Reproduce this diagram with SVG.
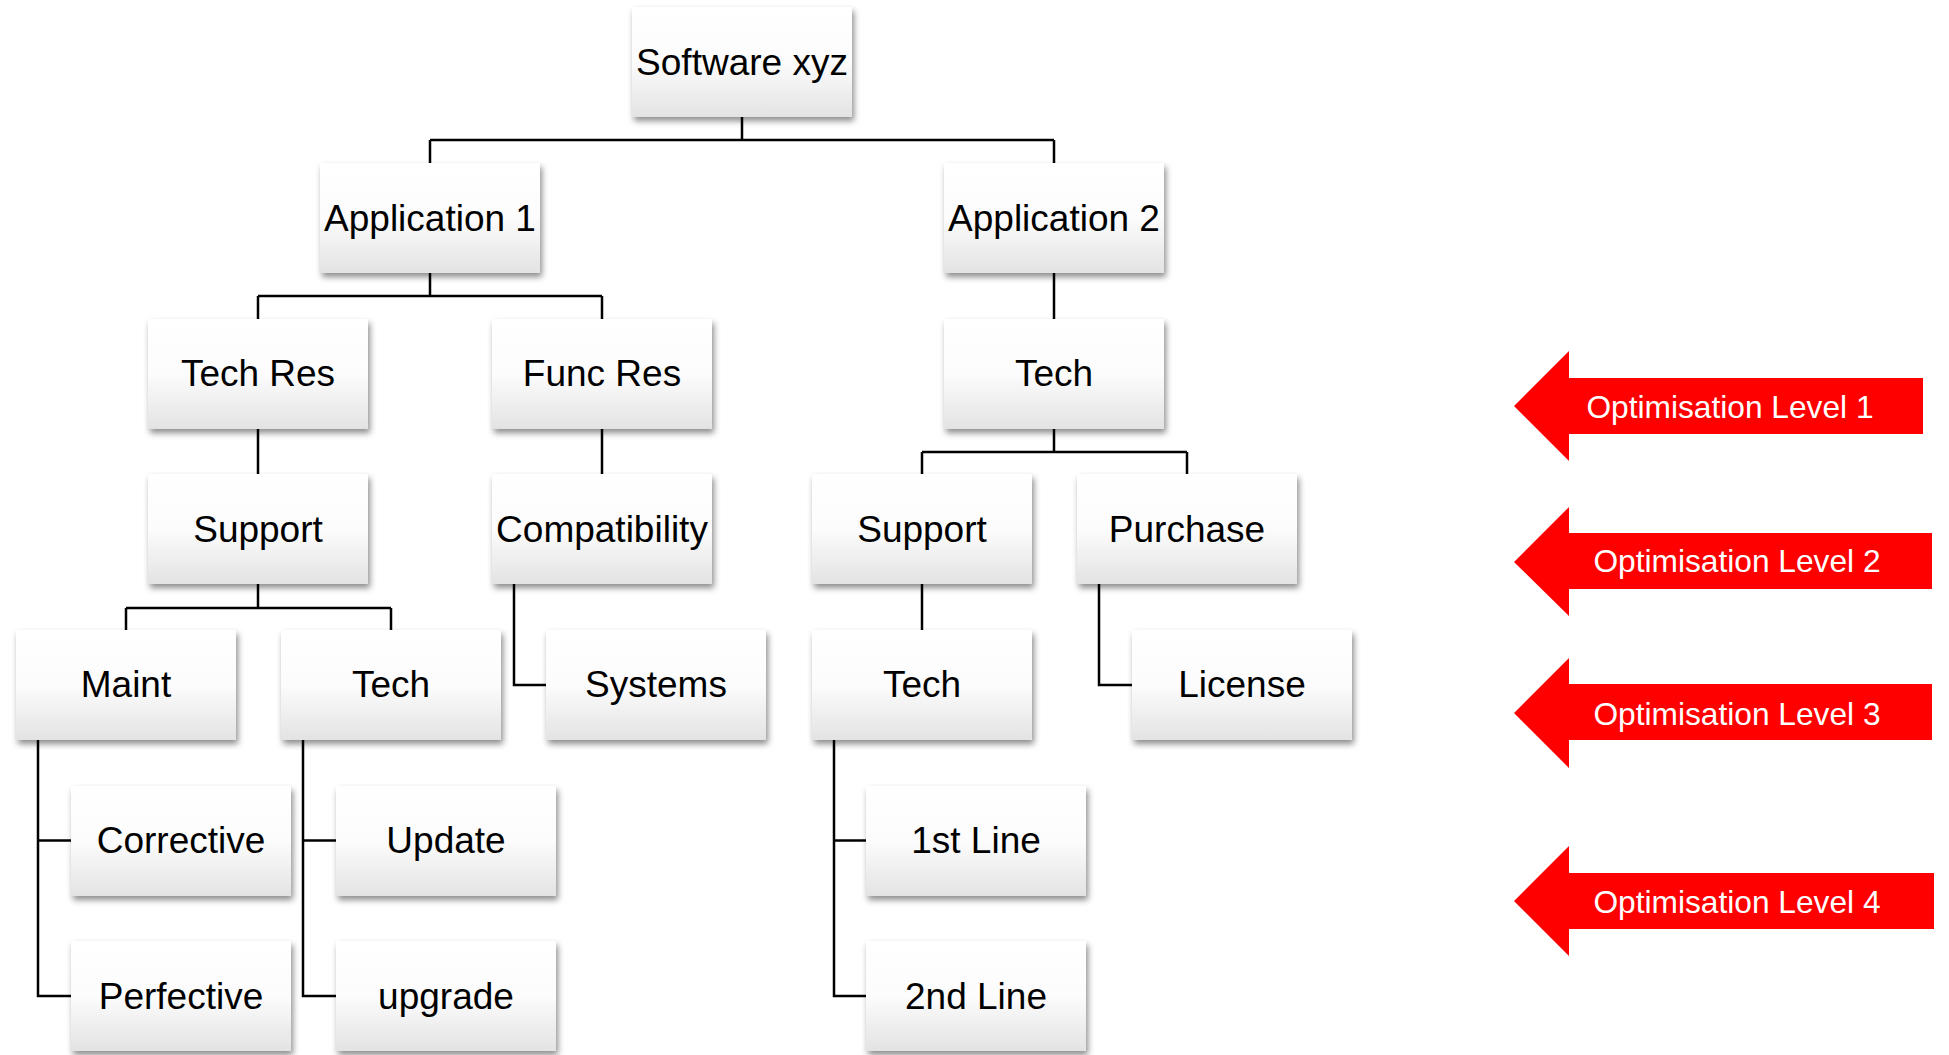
<svg xmlns="http://www.w3.org/2000/svg" width="1949" height="1055" viewBox="0 0 1949 1055">
<style>
.box{fill:url(#g);filter:url(#sh)}
.lbl{font-family:"Liberation Sans",Arial,sans-serif;font-size:37px;fill:#000;text-anchor:middle}
.con{fill:none;stroke:#000;stroke-width:2.5}
.arr{fill:#ff0000}
.at{font-family:"Liberation Sans",Arial,sans-serif;font-size:31.7px;fill:#fff;text-anchor:middle}
</style>
<defs>
<linearGradient id="g" x1="0" y1="0" x2="0" y2="1">
<stop offset="0" stop-color="#ffffff"/>
<stop offset="0.5" stop-color="#fcfcfc"/>
<stop offset="1" stop-color="#e3e3e3"/>
</linearGradient>
<filter id="sh" x="-10%" y="-10%" width="125%" height="130%">
<feDropShadow dx="2" dy="4" stdDeviation="3" flood-color="#000" flood-opacity="0.45"/>
</filter>
</defs>
<rect width="1949" height="1055" fill="#fff"/>
<g id="connectors">
<path class="con" d="M742 117V140M430 140H1054M430 140V163M1054 140V163"/>
<path class="con" d="M430 273V296M258 296H602M258 296V319M602 296V319"/>
<path class="con" d="M1054 273V319"/>
<path class="con" d="M258 429V474M602 429V474"/>
<path class="con" d="M1054 429V452M922 452H1187M922 452V474M1187 452V474"/>
<path class="con" d="M258 584V608M126 608H391M126 608V630M391 608V630"/>
<path class="con" d="M514 584V685H546"/>
<path class="con" d="M922 584V630"/>
<path class="con" d="M1099 584V685H1132"/>
<path class="con" d="M38 740V996H71M38 840.5H71"/>
<path class="con" d="M303 740V996H336M303 840.5H336"/>
<path class="con" d="M834 740V996H866M834 840.5H866"/>
</g>
<g id="sw"><rect class="box" x="632" y="7" width="220" height="110"/><text class="lbl" x="742" y="74.5">Software xyz</text></g>
<g id="app1"><rect class="box" x="320" y="163" width="220" height="110"/><text class="lbl" x="430" y="230.5">Application 1</text></g>
<g id="app2"><rect class="box" x="944" y="163" width="220" height="110"/><text class="lbl" x="1054" y="230.5">Application 2</text></g>
<g id="techres"><rect class="box" x="148" y="319" width="220" height="110"/><text class="lbl" x="258" y="386">Tech Res</text></g>
<g id="funcres"><rect class="box" x="492" y="319" width="220" height="110"/><text class="lbl" x="602" y="386">Func Res</text></g>
<g id="tech2"><rect class="box" x="944" y="319" width="220" height="110"/><text class="lbl" x="1054" y="386">Tech</text></g>
<g id="support1"><rect class="box" x="148" y="474" width="220" height="110"/><text class="lbl" x="258" y="541.5">Support</text></g>
<g id="compat"><rect class="box" x="492" y="474" width="220" height="110"/><text class="lbl" x="602" y="541.5">Compatibility</text></g>
<g id="support2"><rect class="box" x="812" y="474" width="220" height="110"/><text class="lbl" x="922" y="541.5">Support</text></g>
<g id="purchase"><rect class="box" x="1077" y="474" width="220" height="110"/><text class="lbl" x="1187" y="541.5">Purchase</text></g>
<g id="maint"><rect class="box" x="16" y="630" width="220" height="110"/><text class="lbl" x="126" y="697">Maint</text></g>
<g id="tech3"><rect class="box" x="281" y="630" width="220" height="110"/><text class="lbl" x="391" y="697">Tech</text></g>
<g id="systems"><rect class="box" x="546" y="630" width="220" height="110"/><text class="lbl" x="656" y="697">Systems</text></g>
<g id="tech4"><rect class="box" x="812" y="630" width="220" height="110"/><text class="lbl" x="922" y="697">Tech</text></g>
<g id="license"><rect class="box" x="1132" y="630" width="220" height="110"/><text class="lbl" x="1242" y="697">License</text></g>
<g id="corrective"><rect class="box" x="71" y="786" width="220" height="110"/><text class="lbl" x="181" y="853">Corrective</text></g>
<g id="perfective"><rect class="box" x="71" y="941" width="220" height="110"/><text class="lbl" x="181" y="1008.5">Perfective</text></g>
<g id="update"><rect class="box" x="336" y="786" width="220" height="110"/><text class="lbl" x="446" y="853">Update</text></g>
<g id="upgrade"><rect class="box" x="336" y="941" width="220" height="110"/><text class="lbl" x="446" y="1008.5">upgrade</text></g>
<g id="line1"><rect class="box" x="866" y="786" width="220" height="110"/><text class="lbl" x="976" y="853">1st Line</text></g>
<g id="line2"><rect class="box" x="866" y="941" width="220" height="110"/><text class="lbl" x="976" y="1008.5">2nd Line</text></g>
<g id="opt1"><polygon class="arr" points="1514,406 1569,351 1569,378 1923,378 1923,434 1569,434 1569,461"/><text class="at" x="1730" y="418">Optimisation Level 1</text></g>
<g id="opt2"><polygon class="arr" points="1514,562 1569,507 1569,533 1932,533 1932,589 1569,589 1569,616"/><text class="at" x="1737" y="572">Optimisation Level 2</text></g>
<g id="opt3"><polygon class="arr" points="1514,713 1569,658 1569,684 1932,684 1932,740 1569,740 1569,768"/><text class="at" x="1737" y="725">Optimisation Level 3</text></g>
<g id="opt4"><polygon class="arr" points="1514,901 1569,846 1569,873 1934,873 1934,929 1569,929 1569,956"/><text class="at" x="1737" y="913">Optimisation Level 4</text></g>
</svg>
